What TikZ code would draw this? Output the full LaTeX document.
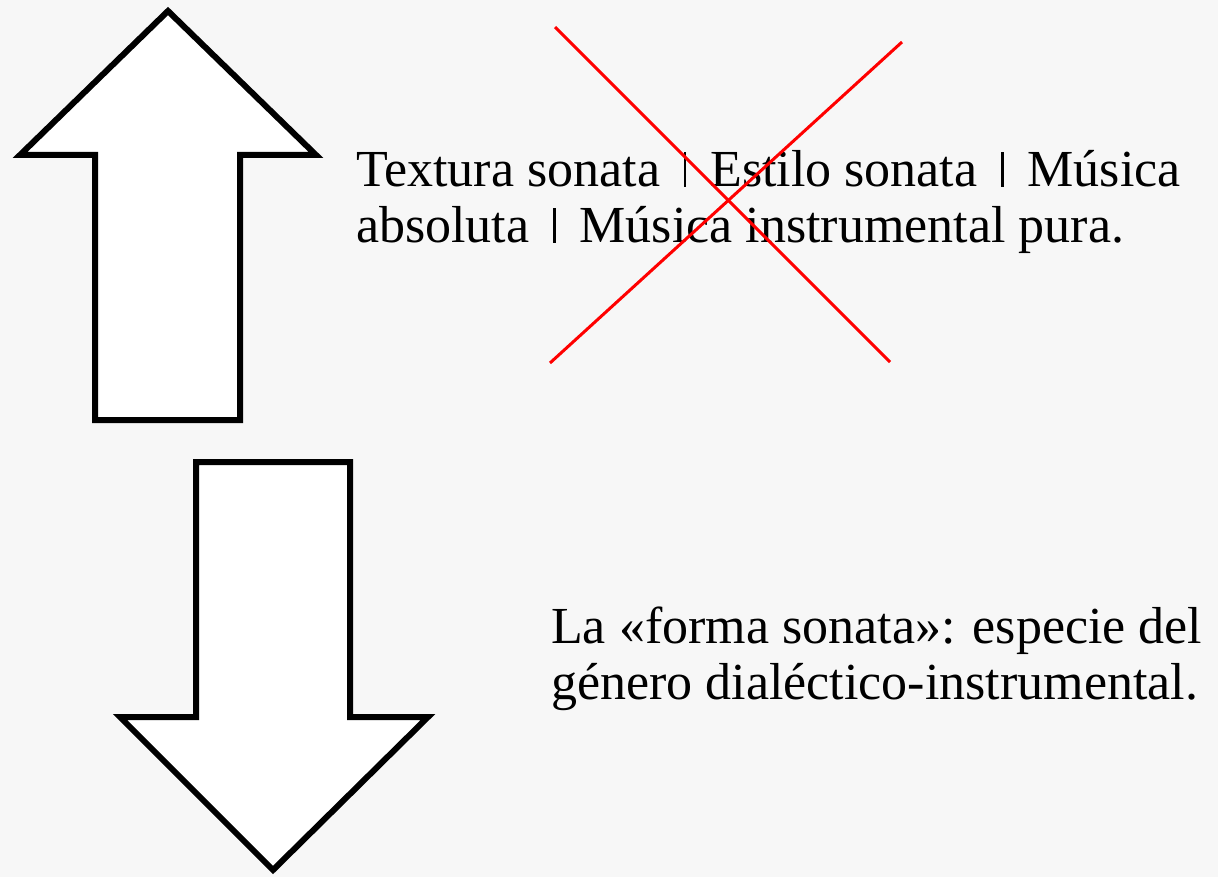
\documentclass[tikz,border=0pt]{standalone}
\usepackage{fontspec}
\setmainfont{Liberation Serif}
\definecolor{bg}{HTML}{F7F7F7}
\definecolor{xred}{HTML}{FF0000}
\newcommand{\sepbar}{\hspace{24pt}\rule{2.2pt}{35pt}\hspace{24pt}}
\tikzset{
  bigarrow/.style={draw=black, fill=white, line width=6pt, miter limit=3},
  cross/.style={draw=xred, line width=3pt},
  txt/.style={anchor=base west, inner sep=0pt, align=left, font=\fontsize{52}{56}\selectfont},
}
\begin{document}
\begin{tikzpicture}[x=1pt,y=-1pt]
\fill[bg] (0,0) rectangle (1218,877);
\useasboundingbox (0,0) rectangle (1218,877);
% up arrow
\path[bigarrow] (168,11) -- (316,155) -- (240,155) -- (240,420) -- (95,420) -- (95,155) -- (20,155) -- cycle;
% down arrow
\path[bigarrow] (196,462) -- (350,462) -- (350,717) -- (428,717) -- (273,870) -- (120,717) -- (196,717) -- cycle;
% texts
\node[txt] (t1) at (356,243) {Textura sonata\sepbar Estilo sonata\sepbar Música\\absoluta\sepbar Música instrumental pura.};
\node[txt] (t2) at (551,699) {La «forma sonata»: especie del\\género dialéctico-instrumental.};
% red cross
\coordinate (c1) at (555,27);
\coordinate (c2) at (890,362);
\coordinate (c3) at (902,42);
\coordinate (c4) at (550,363);
\draw[cross] (c1) -- (c2);
\draw[cross] (c3) -- (c4);
\end{tikzpicture}
\end{document}
